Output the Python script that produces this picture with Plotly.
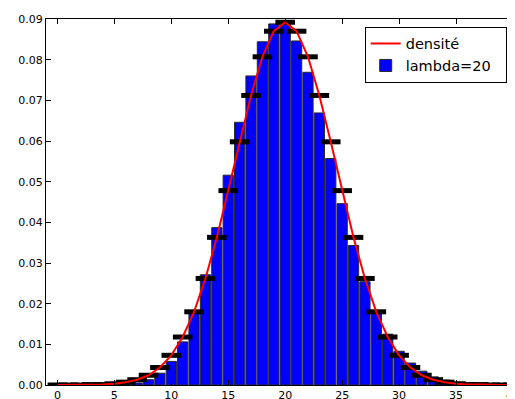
import plotly.graph_objects as go

# Values
k_values = list(range(0, 41))
bar_heights = [0.0000, 0.0000, 0.0000, 0.0000, 0.0000, 0.0001, 0.0002, 0.0005,
               0.0013, 0.0029, 0.0058, 0.0106, 0.0176, 0.0271, 0.0387, 0.0516,
               0.0646, 0.0760, 0.0844, 0.0888, 0.0888, 0.0846, 0.0769, 0.0669,
               0.0557, 0.0446, 0.0343, 0.0254, 0.0181, 0.0125, 0.0083, 0.0054,
               0.0034, 0.0020, 0.0012, 0.0007, 0.0004, 0.0002, 0.0001, 0.0001,
               0.0000]
density = [0.0000, 0.0000, 0.0000, 0.0001, 0.0001, 0.0003, 0.0007, 0.0013,
           0.0024, 0.0043, 0.0073, 0.0118, 0.0180, 0.0262, 0.0363, 0.0478,
           0.0598, 0.0712, 0.0807, 0.0870, 0.0892, 0.0870, 0.0807, 0.0712,
           0.0598, 0.0478, 0.0363, 0.0262, 0.0180, 0.0118, 0.0073, 0.0043,
           0.0024, 0.0013, 0.0007, 0.0003, 0.0001, 0.0001, 0.0000, 0.0000,
           0.0000]
x_ticks = [0, 5, 10, 15, 20, 25, 30, 35, 40]
y_ticks = [0.00, 0.01, 0.02, 0.03, 0.04, 0.05, 0.06, 0.07, 0.08, 0.09]

fig = go.Figure()

fig.add_trace(go.Bar(
    x=k_values, y=bar_heights, name="lambda=20\u00a0\u00a0", width=0.9,
    marker=dict(color="#0000ff", line=dict(color="rgb(40,40,40)", width=1)),
))
fig.add_trace(go.Scatter(
    x=k_values, y=density, mode="markers", showlegend=False,
    marker=dict(symbol="line-ew", size=14, color="black",
                line=dict(color="black", width=5)),
))
fig.add_trace(go.Scatter(
    x=k_values, y=density, mode="lines", name="densité",
    line=dict(color="red", width=2),
))

axis_common = dict(
    showgrid=False, zeroline=False, showline=True, linecolor="black",
    linewidth=1, mirror="allticks", ticks="inside", ticklen=5,
    tickcolor="black", tickwidth=1, automargin=False,
    ticklabeloverflow="allow",
    tickfont=dict(family="DejaVu Sans", size=11, color="black"),
)

# The page body has an 8px margin, so the figure is sized/offset to compensate
fig.update_layout(
    width=507, height=391,
    margin=dict(l=38, r=2, t=11, b=14),
    paper_bgcolor="white", plot_bgcolor="white",
    font=dict(family="DejaVu Sans", color="black"),
    barmode="overlay",
    legend=dict(
        x=0.9865, y=0.979, xanchor="right", yanchor="top",
        bordercolor="black", borderwidth=1, bgcolor="white",
        font=dict(family="DejaVu Sans", size=14.5, color="black"),
        traceorder="reversed", tracegroupgap=0,
    ),
    xaxis=dict(range=[-1, 40.0005], tickvals=x_ticks,
               ticktext=[str(v) for v in x_ticks], **axis_common),
    yaxis=dict(range=[0, 0.09], tickvals=y_ticks,
               ticktext=[f"{v:.2f}" for v in y_ticks], **axis_common),
)

fig.write_html("out.html")
